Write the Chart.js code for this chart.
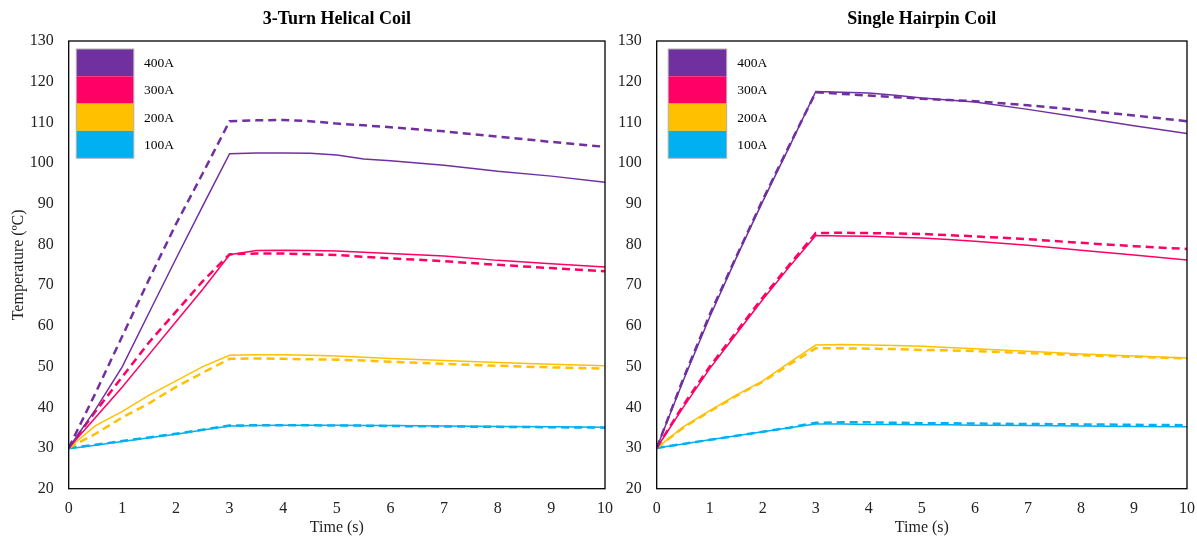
<!DOCTYPE html>
<html>
<head>
<meta charset="utf-8">
<script src="https://cdn.jsdelivr.net/npm/chart.js@4/dist/chart.umd.min.js"></script>
<style>
  html, body { margin: 0; padding: 0; background: #fff; overflow: hidden; }
  #wrap { position: relative; width: 1197px; height: 537px; overflow: hidden; }
  .box { position: absolute; top: 0; height: 537px; }
</style>
</head>
<body>
<div id="wrap">
  <div class="box" style="left:0;width:615px;"><canvas id="c1"></canvas></div>
  <div class="box" style="left:600px;width:597px;"><canvas id="c2"></canvas></div>
</div>
<script>
// ---- data ----
const time = [0, 0.5, 1, 1.5, 2, 2.5, 3, 3.5, 4, 4.5, 5, 5.5, 6, 7, 8, 9, 10];
const legendLabels = ['400A', '300A', '200A', '100A'];
const seriesColors = ['#7030A0', '#FF0066', '#FFC000', '#00B0F0'];

// 3-Turn Helical Coil (solid = measured, dashed = simulated)
const helical400Solid  = [30, 39.5, 50, 63.3, 76.5, 89.5, 102.3, 102.5, 102.5, 102.4, 102, 101, 100.6, 99.5, 98, 96.8, 95.3];
const helical400Dashed = [30, 43.5, 57.5, 71.5, 85, 97.5, 110.3, 110.5, 110.6, 110.3, 109.7, 109.3, 108.8, 107.8, 106.5, 105.2, 104];
const helical300Solid  = [30, 37.5, 45, 53, 61, 69, 77.5, 78.5, 78.6, 78.5, 78.4, 78.1, 77.8, 77.2, 76.1, 75.3, 74.5];
const helical300Dashed = [30, 39, 47.5, 56, 63.5, 71, 77.6, 77.8, 77.8, 77.6, 77.4, 77, 76.6, 75.9, 75, 74.2, 73.4];
const helical200Solid  = [30, 35.5, 39, 43, 46.5, 50, 52.8, 52.9, 52.9, 52.8, 52.6, 52.3, 52, 51.5, 51, 50.6, 50.2];
const helical200Dashed = [30, 33.5, 37.5, 41, 45, 48.5, 51.9, 52, 51.9, 51.8, 51.7, 51.5, 51.2, 50.7, 50.2, 49.8, 49.5];
const helical100Solid  = [29.8, 30.7, 31.6, 32.5, 33.4, 34.4, 35.4, 35.5, 35.6, 35.6, 35.6, 35.5, 35.5, 35.4, 35.3, 35.2, 35.1];
const helical100Dashed = [30, 30.8, 31.7, 32.6, 33.5, 34.5, 35.5, 35.6, 35.6, 35.6, 35.5, 35.5, 35.4, 35.3, 35.2, 35.1, 35];

// Single Hairpin Coil
const hairpin400Solid  = [30, 46.5, 62.2, 76.7, 90.6, 104, 117.6, 117.4, 117.2, 116.7, 116, 115.5, 115, 113.2, 111.2, 109.2, 107.3];
const hairpin400Dashed = [30, 47, 62.8, 77, 91, 104.3, 117.4, 117, 116.6, 116.2, 115.8, 115.5, 115.2, 114.2, 113, 111.7, 110.3];
const hairpin300Solid  = [30, 40, 49.5, 58, 66.5, 74.5, 82.2, 82.1, 82, 81.8, 81.6, 81.2, 80.8, 79.8, 78.6, 77.4, 76.2];
const hairpin300Dashed = [30, 40.5, 50, 58.5, 67, 75, 82.8, 82.9, 82.8, 82.7, 82.6, 82.3, 82, 81.3, 80.4, 79.6, 78.9];
const hairpin200Solid  = [30, 35.2, 39.2, 43, 46.5, 51, 55.3, 55.4, 55.3, 55.2, 55, 54.7, 54.4, 53.8, 53.1, 52.6, 52.1];
const hairpin200Dashed = [30, 35, 39, 42.8, 46.3, 50.5, 54.5, 54.5, 54.4, 54.3, 54.1, 54, 53.8, 53.3, 52.8, 52.4, 52];
const hairpin100Solid  = [30, 31, 32, 33, 34, 35, 35.9, 35.9, 35.8, 35.8, 35.7, 35.7, 35.6, 35.5, 35.4, 35.3, 35.2];
const hairpin100Dashed = [30, 31, 32, 33, 34, 35, 36.2, 36.3, 36.3, 36.2, 36.1, 36.1, 36, 35.9, 35.8, 35.7, 35.6];

const xTicks = [0, 1, 2, 3, 4, 5, 6, 7, 8, 9, 10];
const yMin = 20, yMax = 130, yStep = 10;

// ---- helpers ----
const FONT = '"Liberation Serif", "Times New Roman", serif';

function pts(vals) { return vals.map((v, i) => ({ x: time[i], y: v })); }

function makeDatasets(solids, dashes) {
  const ds = [];
  for (let i = 0; i < 4; i++) {
    ds.push({ label: legendLabels[i] + ' solid', data: pts(solids[i]), borderColor: seriesColors[i],
      borderWidth: 1.5, pointRadius: 0, fill: false, tension: 0 });
    ds.push({ label: legendLabels[i] + ' dashed', data: pts(dashes[i]), borderColor: seriesColors[i],
      borderWidth: 2.5, borderDash: [8, 5], pointRadius: 0, fill: false, tension: 0 });
  }
  return ds;
}

const framePlugin = {
  id: 'frame',
  afterDatasetsDraw(chart) {
    const { ctx, chartArea: a } = chart;
    ctx.save();
    ctx.strokeStyle = '#000';
    ctx.lineWidth = 1.3;
    ctx.strokeRect(a.left, a.top, a.right - a.left, a.bottom - a.top);
    ctx.restore();
  }
};

const centerTitlePlugin = {
  id: 'centerTitle',
  afterDraw(chart, args, opts) {
    const { ctx, chartArea: a } = chart;
    ctx.save();
    ctx.fillStyle = '#000';
    ctx.font = 'bold 18px ' + FONT;
    ctx.textAlign = 'center';
    ctx.textBaseline = 'middle';
    ctx.fillText(opts.text, (a.left + a.right) / 2, 19);
    ctx.restore();
  }
};

const boxLegendPlugin = {
  id: 'boxLegend',
  afterDraw(chart, args, opts) {
    const { ctx, chartArea: a } = chart;
    const x0 = a.left + opts.dx, y0 = a.top + 8;
    const w = opts.w, h = 27.3;
    ctx.save();
    for (let i = 0; i < legendLabels.length; i++) {
      ctx.fillStyle = seriesColors[i];
      ctx.fillRect(x0, y0 + i * h, w, h);
      ctx.fillStyle = '#000';
      ctx.font = '13.5px ' + FONT;
      ctx.textBaseline = 'middle';
      ctx.textAlign = 'left';
      ctx.fillText(legendLabels[i], x0 + opts.tx, y0 + i * h + h / 2 + 1);
    }
    ctx.strokeStyle = '#b0b0b0';
    ctx.lineWidth = 1;
    ctx.strokeRect(x0, y0, w, h * legendLabels.length);
    ctx.restore();
  }
};

function makeChart(id, titleText, solids, dashes, cfg) {
  return new Chart(document.getElementById(id), {
    type: 'line',
    data: { datasets: makeDatasets(solids, dashes) },
    options: {
      responsive: true,
      maintainAspectRatio: false,
      animation: false,
      events: [],
      layout: { padding: { left: 0, right: cfg.padRight, top: 41, bottom: 0 } },
      plugins: {
        legend: { display: false },
        tooltip: { enabled: false },
        title: { display: false },
        centerTitle: { text: titleText },
        boxLegend: { dx: cfg.legendDx, w: cfg.legendW, tx: cfg.legendTx }
      },
      scales: {
        x: {
          type: 'linear', min: 0, max: 10,
          afterBuildTicks: (s) => { s.ticks = xTicks.map(v => ({ value: v })); },
          grid: { display: false, drawTicks: false },
          border: { display: false },
          ticks: { color: '#222', font: { family: FONT, size: 16 }, padding: 10, maxRotation: 0 },
          title: { display: true, text: 'Time (s)', color: '#222', font: { family: FONT, size: 16 }, padding: { top: 0, bottom: 0 } },
          afterFit: (s) => { s.height = 48.3; s.paddingLeft = 0; s.paddingRight = 0; }
        },
        y: {
          type: 'linear', min: yMin, max: yMax,
          ticks: { stepSize: yStep, color: '#222', font: { family: FONT, size: 16 }, padding: 15 },
          grid: { display: false, drawTicks: false },
          border: { display: false },
          title: { display: cfg.yTitle, text: 'Temperature (ºC)', color: '#222', font: { family: FONT, size: 16 }, padding: { top: 9, bottom: 9 } },
          afterFit: (s) => { s.width = cfg.yWidth; s.paddingTop = 0; s.paddingBottom = 0; }
        }
      }
    },
    plugins: [framePlugin, centerTitlePlugin, boxLegendPlugin]
  });
}

makeChart('c1', '3-Turn Helical Coil',
  [helical400Solid, helical300Solid, helical200Solid, helical100Solid],
  [helical400Dashed, helical300Dashed, helical200Dashed, helical100Dashed],
  { padRight: 10, yWidth: 68.7, yTitle: true, legendDx: 7.6, legendW: 57.5, legendTx: 67.7 });

makeChart('c2', 'Single Hairpin Coil',
  [hairpin400Solid, hairpin300Solid, hairpin200Solid, hairpin100Solid],
  [hairpin400Dashed, hairpin300Dashed, hairpin200Dashed, hairpin100Dashed],
  { padRight: 10, yWidth: 56.7, yTitle: false, legendDx: 11.5, legendW: 58.5, legendTx: 69 });
</script>
</body>
</html>
